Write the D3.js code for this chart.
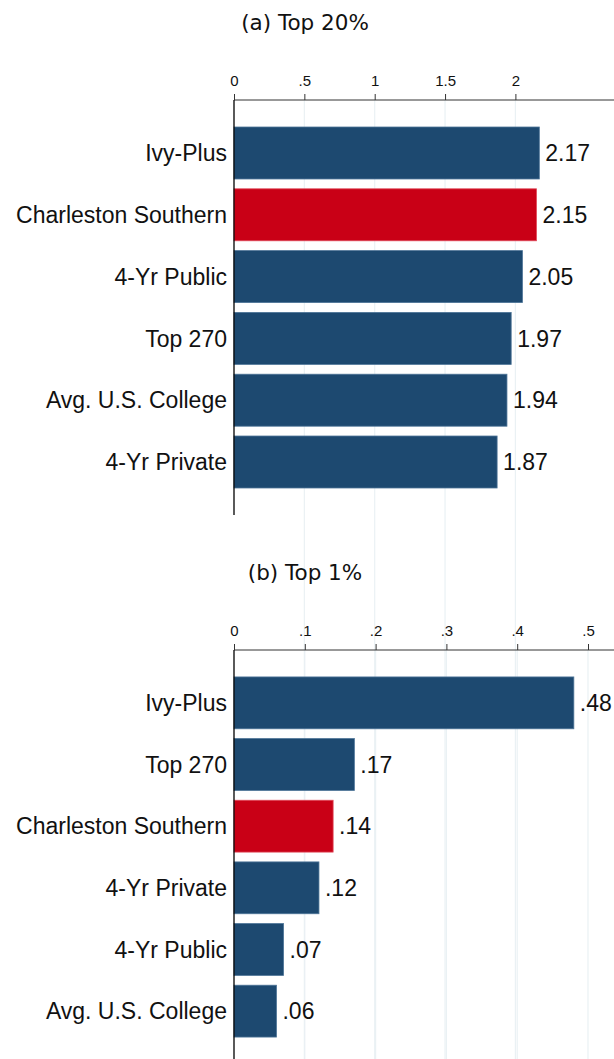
<!DOCTYPE html>
<html><head><meta charset="utf-8">
<script src="https://cdn.jsdelivr.net/npm/d3@7"></script>
<style>body{margin:0;background:#fff}svg{display:block}</style>
</head><body>
<script>
// Panel (a) Top 20%
const catsA = ["Ivy-Plus","Charleston Southern","4-Yr Public","Top 270","Avg. U.S. College","4-Yr Private"];
const valsA = [2.17, 2.15, 2.05, 1.97, 1.94, 1.87];
const labelsA = ["2.17","2.15","2.05","1.97","1.94","1.87"];
const ticksA = [0, 0.5, 1, 1.5, 2];
const tickLabelsA = ["0", ".5", "1", "1.5", "2"];
// Panel (b) Top 1%
const catsB = ["Ivy-Plus","Top 270","Charleston Southern","4-Yr Private","4-Yr Public","Avg. U.S. College"];
const valsB = [0.48, 0.17, 0.14, 0.12, 0.07, 0.06];
const labelsB = [".48",".17",".14",".12",".07",".06"];
const ticksB = [0, 0.1, 0.2, 0.3, 0.4, 0.5];
const tickLabelsB = ["0", ".1", ".2", ".3", ".4", ".5"];
const highlight = "Charleston Southern";

const W = 614, H = 1059;
const svg = d3.select("body").append("svg").attr("width", W).attr("height", H);
const BLUE = "#1d4970", RED = "#c90016";

function panel(opts){
  const {title, titleY, axisY, bottom, cats, vals, labels, ticks, tickLabels, xmax} = opts;
  const x = d3.scaleLinear().domain([0, xmax]).range([234, 614]);
  const y = d3.scaleBand().domain(cats).range([axisY, bottom]).paddingInner(0.159).paddingOuter(0.437);
  const g = svg.append("g");
  g.append("text").attr("x", 305).attr("y", titleY).attr("text-anchor","middle")
    .attr("font-family","DejaVu Sans, sans-serif").attr("font-size", 21.5).attr("fill","#111")
    .text(title);
  // gridlines
  g.selectAll("line.grid").data(ticks.filter(t=>t>0)).enter().append("line")
    .attr("x1", d=>x(d)).attr("x2", d=>x(d)).attr("y1", axisY).attr("y2", H)
    .attr("stroke","#eaf1f4").attr("stroke-width",1.2);
  // top axis
  const ax = d3.axisTop(x).tickValues(ticks).tickFormat((d,i)=>tickLabels[i]).tickSize(6).tickPadding(8);
  const axg = g.append("g").attr("transform",`translate(0,${axisY})`).call(ax);
  axg.select(".domain").attr("stroke","#333").attr("stroke-width",1).attr("d",`M234,0H614`);
  axg.selectAll(".tick line").attr("stroke","#333");
  axg.selectAll(".tick text").attr("font-family","Liberation Sans, Arial, sans-serif").attr("font-size",15).attr("fill","#111");
  // bars
  g.selectAll("rect.bar").data(cats).enter().append("rect")
    .attr("x", x(0)).attr("y", d=>y(d)).attr("height", y.bandwidth())
    .attr("width", (d,i)=>x(vals[i]) - x(0))
    .attr("fill", d=> d===highlight ? RED : BLUE)
    .attr("stroke", d=> d===highlight ? "#e04a5a" : "#4d7497").attr("stroke-width",0.8);
  // value labels
  g.selectAll("text.val").data(cats).enter().append("text")
    .attr("x", (d,i)=>x(vals[i]) + 6).attr("y", d=>y(d)+y.bandwidth()/2).attr("dy","0.36em")
    .attr("font-family","Liberation Sans, Arial, sans-serif").attr("font-size",23).attr("fill","#111")
    .text((d,i)=>labels[i]);
  // category labels
  g.selectAll("text.cat").data(cats).enter().append("text")
    .attr("x", 227).attr("y", d=>y(d)+y.bandwidth()/2).attr("dy","0.36em").attr("text-anchor","end")
    .attr("font-family","Liberation Sans, Arial, sans-serif").attr("font-size",23).attr("fill","#111")
    .text(d=>d);
  // left axis line
  g.append("line").attr("x1",234).attr("x2",234).attr("y1",axisY).attr("y2",opts.lineEnd)
    .attr("stroke","#000").attr("stroke-width",1.3);
}

panel({title:"(a) Top 20%", titleY:30, axisY:100, bottom:515, lineEnd:515,
  cats:catsA, vals:valsA, labels:labelsA, ticks:ticksA, tickLabels:tickLabelsA, xmax:(614-234)/140.7});
panel({title:"(b) Top 1%", titleY:580, axisY:650, bottom:1064, lineEnd:1059,
  cats:catsB, vals:valsB, labels:labelsB, ticks:ticksB, tickLabels:tickLabelsB, xmax:(614-234)/708});
</script>
</body></html>
